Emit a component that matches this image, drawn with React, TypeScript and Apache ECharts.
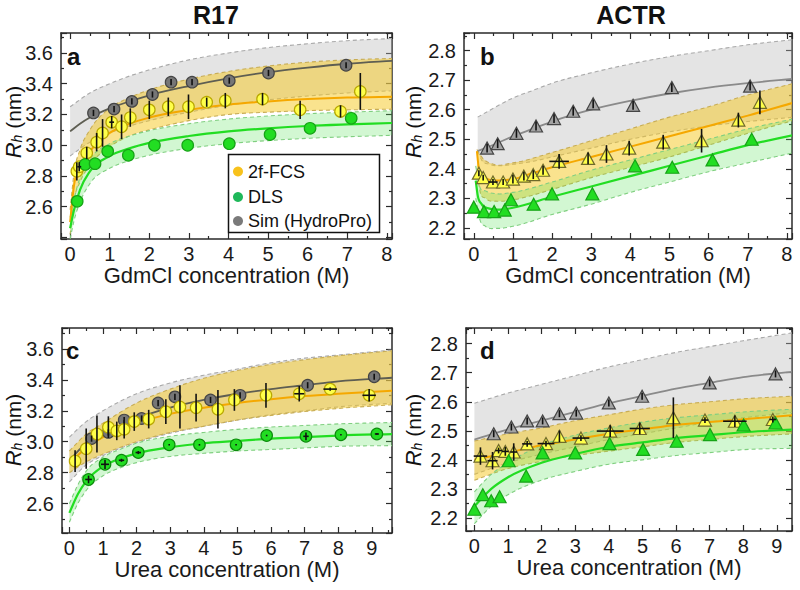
import React, { useEffect, useRef } from 'react';
import * as echarts from 'echarts';

const FONT = '"Liberation Sans", Arial, Helvetica, sans-serif';

// ---------- texts ----------
const columnTitles = ['R17', 'ACTR'];
const panelLetters = ['a', 'b', 'c', 'd'];
const xAxisNames = ['GdmCl concentration (M)', 'GdmCl concentration (M)', 'Urea concentration (M)', 'Urea concentration (M)'];
const legendNames = ['2f-FCS', 'DLS', 'Sim (HydroPro)'];

// ---------- tick labels ----------
const xTicksGdmCl = ['0', '1', '2', '3', '4', '5', '6', '7', '8'];
const xTicksUrea = ['0', '1', '2', '3', '4', '5', '6', '7', '8', '9'];
const yTicksR17 = ['2.6', '2.8', '3.0', '3.2', '3.4', '3.6'];
const yTicksACTR = ['2.2', '2.3', '2.4', '2.5', '2.6', '2.7', '2.8'];

// ---------- panel a : R17 / GdmCl ----------
const fcsA = [[0.17, 2.83], [0.23, 2.86], [0.42, 2.95], [0.67, 3.02], [0.82, 3.08], [1.05, 3.15], [1.3, 3.12], [1.52, 3.18], [2.0, 3.23], [2.48, 3.25], [2.99, 3.25], [3.45, 3.28], [3.92, 3.29], [4.86, 3.3], [5.81, 3.23], [6.83, 3.22], [7.33, 3.35]];
const fcsErrA = [[0.06, 0], [0.03, 0.05], [0.04, 0], [0.06, 0], [0.09, 0], [0.04, 0.06], [0.08, 0], [0.06, 0], [0.06, 0], [0.06, 0], [0.08, 0], [0.03, 0], [0.05, 0], [0.04, 0], [0.06, 0], [0.04, 0], [0.12, 0]];
const simA = [[0.59, 3.21], [1.11, 3.235], [1.56, 3.285], [2.08, 3.33], [2.55, 3.41], [3.08, 3.41], [4.02, 3.42], [5.01, 3.47], [6.97, 3.52]];
const simErrA = [[0.02, 0], [0.02, 0], [0.02, 0], [0.02, 0], [0.02, 0], [0.02, 0], [0.02, 0], [0.02, 0], [0.02, 0]];
const dlsA = [[0.18, 2.635], [0.38, 2.875], [0.63, 2.88], [0.95, 2.96], [1.47, 2.935], [2.13, 3.0], [2.97, 3.0], [4.02, 3.01], [5.05, 3.07], [6.06, 3.11], [7.1, 3.175]];
const dlsErrA = [[0, 0], [0, 0], [0, 0], [0, 0], [0, 0], [0, 0], [0, 0], [0, 0], [0, 0], [0, 0], [0, 0]];
const simFitA = [[0, 3.09], [0.25, 3.14], [0.5, 3.18], [1, 3.24], [1.5, 3.285], [2, 3.325], [3, 3.385], [4, 3.435], [5, 3.475], [6, 3.505], [7, 3.53], [8.2, 3.55]];
const simUpA = [[0, 3.25], [0.5, 3.34], [1, 3.4], [1.5, 3.45], [2, 3.49], [3, 3.555], [4, 3.6], [5, 3.635], [6, 3.66], [7, 3.68], [8.2, 3.695]];
const simLoA = [[0, 2.93], [0.5, 3.02], [1, 3.08], [1.5, 3.125], [2, 3.16], [3, 3.215], [4, 3.26], [5, 3.295], [6, 3.32], [7, 3.34], [8.2, 3.355]];
const fcsFitA = [[0, 2.5], [0.1, 2.74], [0.25, 2.86], [0.5, 2.96], [1, 3.08], [1.5, 3.14], [2, 3.18], [3, 3.23], [4, 3.265], [5, 3.285], [6, 3.3], [7, 3.31], [8.2, 3.315]];
const fcsUpA = [[0, 2.58], [0.1, 2.82], [0.25, 2.97], [0.5, 3.1], [1, 3.24], [1.5, 3.31], [2, 3.36], [3, 3.43], [4, 3.48], [5, 3.515], [6, 3.54], [7, 3.555], [8.2, 3.565]];
const fcsLoA = [[0, 2.42], [0.1, 2.64], [0.25, 2.76], [0.5, 2.87], [1, 2.99], [1.5, 3.06], [2, 3.1], [3, 3.16], [4, 3.2], [5, 3.215], [6, 3.225], [7, 3.23], [8.2, 3.235]];
const dlsFitA = [[0, 2.46], [0.1, 2.58], [0.25, 2.71], [0.5, 2.83], [1, 2.93], [1.5, 2.98], [2, 3.015], [3, 3.06], [4, 3.09], [5, 3.11], [6, 3.125], [7, 3.135], [8.2, 3.145]];
const dlsUpA = [[0, 2.53], [0.1, 2.65], [0.25, 2.79], [0.5, 2.91], [1, 3.01], [1.5, 3.06], [2, 3.095], [3, 3.14], [4, 3.17], [5, 3.19], [6, 3.205], [7, 3.215], [8.2, 3.225]];
const dlsLoA = [[0, 2.39], [0.1, 2.51], [0.25, 2.63], [0.5, 2.75], [1, 2.85], [1.5, 2.9], [2, 2.935], [3, 2.98], [4, 3.01], [5, 3.03], [6, 3.045], [7, 3.055], [8.2, 3.065]];

// ---------- panel b : ACTR / GdmCl ----------
const simB = [[0.34, 2.47], [0.61, 2.485], [1.09, 2.52], [1.59, 2.545], [2.05, 2.57], [2.54, 2.595], [3.05, 2.62], [4.07, 2.615], [5.06, 2.675], [7.06, 2.68]];
const simErrB = [[0.015, 0], [0.015, 0], [0.015, 0], [0.015, 0], [0.015, 0], [0.015, 0], [0.015, 0], [0.015, 0], [0.015, 0], [0.015, 0]];
const fcsB = [[0.13, 2.385], [0.24, 2.37], [0.49, 2.355], [0.75, 2.355], [1.0, 2.365], [1.28, 2.375], [1.52, 2.38], [1.77, 2.395], [2.18, 2.425], [2.92, 2.435], [3.39, 2.45], [3.97, 2.47], [4.84, 2.49], [5.82, 2.495], [6.76, 2.565], [7.31, 2.625]];
const fcsErrB = [[0.01, 0], [0.01, 0], [0.01, 0.12], [0.01, 0], [0.015, 0], [0.015, 0], [0.015, 0], [0.015, 0], [0.025, 0.25], [0.02, 0], [0.03, 0], [0.025, 0], [0.025, 0], [0.04, 0], [0.025, 0], [0.04, 0]];
const dlsB = [[0.0, 2.27], [0.26, 2.255], [0.52, 2.255], [0.79, 2.26], [0.95, 2.295], [1.53, 2.28], [2.0, 2.315], [3.03, 2.315], [4.12, 2.41], [5.07, 2.405], [6.1, 2.43], [7.1, 2.5]];
const dlsErrB = [[0, 0], [0, 0], [0, 0], [0, 0], [0, 0], [0, 0], [0, 0], [0, 0], [0, 0], [0, 0], [0, 0], [0, 0]];
const simFitB = [[0.1, 2.46], [0.3, 2.47], [0.6, 2.487], [1, 2.51], [1.5, 2.535], [2, 2.56], [3, 2.6], [4, 2.63], [5, 2.655], [6, 2.675], [7, 2.69], [8.2, 2.705]];
const simUpB = [[0.1, 2.575], [0.5, 2.605], [1, 2.64], [1.5, 2.665], [2, 2.69], [3, 2.725], [4, 2.755], [5, 2.78], [6, 2.8], [7, 2.82], [8.2, 2.838]];
const simLoB = [[0.1, 2.46], [0.2, 2.43], [0.4, 2.415], [0.7, 2.41], [1, 2.415], [1.5, 2.425], [2, 2.44], [3, 2.47], [4, 2.5], [5, 2.525], [6, 2.545], [7, 2.56], [8.2, 2.575]];
const fcsFitB = [[0.08, 2.46], [0.12, 2.41], [0.2, 2.38], [0.35, 2.365], [0.6, 2.36], [1, 2.365], [1.5, 2.385], [2, 2.405], [3, 2.44], [4, 2.475], [5, 2.51], [6, 2.545], [7, 2.58], [8.2, 2.625]];
const fcsUpB = [[0.08, 2.465], [0.2, 2.44], [0.5, 2.415], [1, 2.42], [2, 2.455], [3, 2.495], [4, 2.535], [5, 2.575], [6, 2.61], [7, 2.65], [8.2, 2.69]];
const fcsLoB = [[0.08, 2.4], [0.15, 2.33], [0.3, 2.3], [0.6, 2.29], [1, 2.295], [2, 2.33], [3, 2.37], [4, 2.405], [5, 2.44], [6, 2.48], [7, 2.52], [8.2, 2.565]];
const dlsFitB = [[0.05, 2.36], [0.1, 2.31], [0.2, 2.28], [0.4, 2.265], [0.7, 2.262], [1, 2.268], [2, 2.305], [3, 2.34], [4, 2.375], [5, 2.41], [6, 2.445], [7, 2.48], [8.2, 2.515]];
const dlsUpB = [[0.05, 2.41], [0.15, 2.34], [0.3, 2.325], [0.6, 2.315], [1, 2.32], [2, 2.355], [3, 2.395], [4, 2.43], [5, 2.465], [6, 2.5], [7, 2.535], [8.2, 2.57]];
const dlsLoB = [[0.05, 2.3], [0.15, 2.23], [0.3, 2.205], [0.6, 2.198], [1, 2.205], [2, 2.245], [3, 2.28], [4, 2.32], [5, 2.355], [6, 2.39], [7, 2.42], [8.2, 2.455]];

// ---------- panel c : R17 / urea ----------
const simC = [[0.66, 3.02], [1.16, 3.06], [1.63, 3.14], [2.15, 3.15], [2.64, 3.25], [3.14, 3.29], [4.2, 3.27], [5.08, 3.3], [7.09, 3.365], [9.07, 3.42]];
const simErrC = [[0.02, 0], [0.02, 0], [0.02, 0], [0.02, 0], [0.02, 0], [0.02, 0], [0.02, 0], [0.02, 0], [0.02, 0], [0.02, 0]];
const fcsC = [[0.17, 2.875], [0.5, 2.955], [0.82, 3.05], [1.16, 3.094], [1.41, 3.07], [1.63, 3.08], [1.93, 3.13], [2.36, 3.146], [2.87, 3.194], [3.29, 3.225], [3.77, 3.22], [4.42, 3.21], [4.91, 3.27], [5.85, 3.3], [6.84, 3.31], [7.76, 3.34], [8.92, 3.3]];
const fcsErrC = [[0.07, 0], [0.13, 0], [0.12, 0], [0.07, 0], [0.06, 0], [0.06, 0], [0.06, 0], [0.06, 0], [0.08, 0], [0.14, 0], [0.09, 0], [0.125, 0], [0.07, 0], [0.08, 0], [0.05, 0.15], [0.01, 0.2], [0.04, 0.2]];
const dlsC = [[0.57, 2.756], [1.06, 2.854], [1.55, 2.88], [2.05, 2.93], [2.97, 2.98], [3.87, 2.98], [4.96, 2.98], [5.87, 3.04], [7.04, 3.035], [8.08, 3.045], [9.15, 3.05]];
const dlsErrC = [[0.025, 0.1], [0.03, 0.12], [0.01, 0.08], [0.01, 0.08], [0.005, 0], [0.005, 0], [0.005, 0], [0.005, 0], [0.025, 0.08], [0.005, 0], [0.005, 0.06]];
const simFitC = [[0, 2.88], [0.5, 2.99], [1, 3.05], [2, 3.15], [3, 3.22], [4, 3.27], [5, 3.31], [6, 3.34], [7, 3.365], [8, 3.39], [9.7, 3.415]];
const simUpC = [[0, 3.03], [0.5, 3.13], [1, 3.2], [2, 3.31], [3, 3.38], [4, 3.43], [5, 3.47], [6, 3.51], [7, 3.54], [8, 3.56], [9.7, 3.595]];
const simLoC = [[0, 2.74], [0.5, 2.85], [1, 2.91], [2, 2.995], [3, 3.055], [4, 3.1], [5, 3.14], [6, 3.175], [7, 3.2], [8, 3.225], [9.7, 3.25]];
const fcsFitC = [[0, 2.86], [0.5, 2.96], [1, 3.03], [2, 3.12], [3, 3.18], [4, 3.22], [5, 3.25], [6, 3.275], [7, 3.295], [8, 3.31], [9.7, 3.33]];
const fcsUpC = [[0, 2.94], [0.5, 3.05], [1, 3.12], [2, 3.25], [3, 3.34], [4, 3.41], [5, 3.46], [6, 3.5], [7, 3.53], [8, 3.555], [9.7, 3.59]];
const fcsLoC = [[0, 2.8], [0.5, 2.87], [1, 2.92], [2, 3.0], [3, 3.06], [4, 3.1], [5, 3.14], [6, 3.17], [7, 3.195], [8, 3.215], [9.7, 3.24]];
const dlsFitC = [[0, 2.54], [0.25, 2.66], [0.5, 2.745], [1, 2.84], [1.5, 2.89], [2, 2.925], [3, 2.965], [4, 2.99], [5, 3.005], [6, 3.02], [7, 3.03], [8, 3.04], [9.7, 3.05]];
const dlsUpC = [[0, 2.6], [0.25, 2.72], [0.5, 2.81], [1, 2.9], [1.5, 2.95], [2, 2.99], [3, 3.035], [4, 3.06], [5, 3.08], [6, 3.095], [7, 3.105], [8, 3.115], [9.7, 3.125]];
const dlsLoC = [[0, 2.48], [0.25, 2.6], [0.5, 2.685], [1, 2.78], [1.5, 2.83], [2, 2.865], [3, 2.905], [4, 2.925], [5, 2.94], [6, 2.95], [7, 2.96], [8, 2.97], [9.7, 2.975]];

// ---------- panel d : ACTR / urea ----------
const simD = [[0.575, 2.49], [1.1, 2.513], [1.57, 2.534], [2.03, 2.534], [2.53, 2.559], [3.03, 2.561], [4.0, 2.596], [4.99, 2.619], [7.0, 2.665], [8.96, 2.696]];
const simErrD = [[0.012, 0], [0.012, 0], [0.012, 0], [0.012, 0], [0.012, 0], [0.012, 0], [0.012, 0], [0.012, 0], [0.012, 0], [0.012, 0]];
const fcsD = [[0.18, 2.413], [0.54, 2.397], [0.72, 2.432], [0.92, 2.429], [1.17, 2.427], [1.57, 2.455], [2.13, 2.456], [2.53, 2.481], [3.17, 2.475], [4.04, 2.499], [4.92, 2.508], [5.92, 2.545], [6.86, 2.537], [7.75, 2.533], [8.88, 2.539]];
const fcsErrD = [[0.03, 0.2], [0.03, 0.15], [0.01, 0.1], [0.015, 0.1], [0.03, 0.1], [0.01, 0.15], [0.01, 0.25], [0.02, 0], [0.01, 0.25], [0.02, 0.4], [0.02, 0.3], [0.07, 0], [0.01, 0.1], [0.02, 0.35], [0.01, 0.1]];
const dlsD = [[0.0, 2.23], [0.25, 2.28], [0.5, 2.259], [0.75, 2.273], [1.02, 2.397], [1.54, 2.344], [2.03, 2.424], [3.0, 2.424], [4.02, 2.456], [5.02, 2.436], [6.02, 2.464], [7.01, 2.487], [8.01, 2.52], [8.96, 2.527]];
const dlsErrD = [[0, 0], [0, 0], [0, 0], [0, 0], [0, 0], [0, 0], [0, 0], [0, 0], [0, 0], [0, 0], [0, 0], [0, 0], [0, 0], [0, 0]];
const simFitD = [[0, 2.47], [1, 2.505], [2, 2.535], [3, 2.565], [4, 2.595], [5, 2.62], [6, 2.645], [7, 2.665], [8, 2.685], [9.6, 2.705]];
const simUpD = [[0, 2.595], [1, 2.63], [2, 2.66], [3, 2.69], [4, 2.72], [5, 2.745], [6, 2.77], [7, 2.79], [8, 2.81], [9.6, 2.84]];
const simLoD = [[0, 2.35], [1, 2.39], [2, 2.42], [3, 2.445], [4, 2.47], [5, 2.49], [6, 2.51], [7, 2.53], [8, 2.545], [9.6, 2.565]];
const fcsFitD = [[0, 2.4], [1, 2.425], [2, 2.45], [3, 2.47], [4, 2.49], [5, 2.505], [6, 2.52], [7, 2.53], [8, 2.54], [9.6, 2.555]];
const fcsUpD = [[0, 2.465], [1, 2.49], [2, 2.51], [3, 2.535], [4, 2.555], [5, 2.575], [6, 2.59], [7, 2.6], [8, 2.61], [9.6, 2.62]];
const fcsLoD = [[0, 2.33], [1, 2.37], [2, 2.395], [3, 2.415], [4, 2.43], [5, 2.445], [6, 2.46], [7, 2.47], [8, 2.48], [9.6, 2.49]];
const dlsFitD = [[0, 2.24], [0.5, 2.3], [1, 2.34], [2, 2.39], [3, 2.42], [4, 2.445], [5, 2.46], [6, 2.475], [7, 2.485], [8, 2.495], [9.6, 2.505]];
const dlsUpD = [[0, 2.29], [0.5, 2.35], [1, 2.39], [2, 2.45], [3, 2.485], [4, 2.51], [5, 2.53], [6, 2.545], [7, 2.555], [8, 2.565], [9.6, 2.575]];
const dlsLoD = [[0, 2.18], [0.5, 2.24], [1, 2.28], [2, 2.33], [3, 2.36], [4, 2.385], [5, 2.4], [6, 2.415], [7, 2.425], [8, 2.435], [9.6, 2.44]];

// ---------- styling / layout ----------
const COL = {
  axis: '#2a2a2a',
  text: '#1a1a1a',
  simFill: 'rgba(185,185,185,0.38)',
  simDash: '#a9a9a9',
  fcsFill: 'rgba(245,200,30,0.5)',
  fcsDash: '#c8ad55',
  fcsFit: '#f5a800',
  dlsFill: 'rgba(95,225,95,0.28)',
  dlsDash: '#80cf80',
  dlsFit: '#22dd22',
};

const panels = [
  {
    grid: { left: 61, top: 33, width: 331, height: 206 }, x: [-0.23, 8.13], y: [2.39, 3.73], xs: 8, ys: 7,
    xTicks: xTicksGdmCl, yTicks: yTicksR17, marker: 'circle', simFitColor: '#5e5e52',
    fcs: fcsA, fcsErr: fcsErrA, sim: simA, simErr: simErrA, dls: dlsA, dlsErr: dlsErrA,
    simFit: simFitA, simUp: simUpA, simLo: simLoA, fcsFit: fcsFitA, fcsUp: fcsUpA, fcsLo: fcsLoA, dlsFit: dlsFitA, dlsUp: dlsUpA, dlsLo: dlsLoA,
  },
  {
    grid: { left: 464, top: 33, width: 328, height: 206 }, x: [-0.25, 8.13], y: [2.162, 2.86], xs: 8, ys: 7,
    xTicks: xTicksGdmCl, yTicks: yTicksACTR, marker: 'triangle', simFitColor: '#8a8a8a',
    fcs: fcsB, fcsErr: fcsErrB, sim: simB, simErr: simErrB, dls: dlsB, dlsErr: dlsErrB,
    simFit: simFitB, simUp: simUpB, simLo: simLoB, fcsFit: fcsFitB, fcsUp: fcsUpB, fcsLo: fcsLoB, dlsFit: dlsFitB, dlsUp: dlsUpB, dlsLo: dlsLoB,
  },
  {
    grid: { left: 62, top: 328, width: 330, height: 205 }, x: [-0.22, 9.6], y: [2.41, 3.735], xs: 9, ys: 7,
    xTicks: xTicksUrea, yTicks: yTicksR17, marker: 'circle', simFitColor: '#5e5e52',
    fcs: fcsC, fcsErr: fcsErrC, sim: simC, simErr: simErrC, dls: dlsC, dlsErr: dlsErrC,
    simFit: simFitC, simUp: simUpC, simLo: simLoC, fcsFit: fcsFitC, fcsUp: fcsUpC, fcsLo: fcsLoC, dlsFit: dlsFitC, dlsUp: dlsUpC, dlsLo: dlsLoC,
  },
  {
    grid: { left: 466, top: 328, width: 326, height: 203 }, x: [-0.25, 9.45], y: [2.155, 2.854], xs: 9, ys: 7,
    xTicks: xTicksUrea, yTicks: yTicksACTR, marker: 'triangle', simFitColor: '#8a8a8a',
    fcs: fcsD, fcsErr: fcsErrD, sim: simD, simErr: simErrD, dls: dlsD, dlsErr: dlsErrD,
    simFit: simFitD, simUp: simUpD, simLo: simLoD, fcsFit: fcsFitD, fcsUp: fcsUpD, fcsLo: fcsLoD, dlsFit: dlsFitD, dlsUp: dlsUpD, dlsLo: dlsLoD,
  },
];

// smooth (cubic Hermite in pixel space) path segments through pixel points
function segs(p: number[][]): string {
  const n = p.length;
  if (n < 2) return '';
  const m: number[] = [];
  for (let i = 0; i < n; i++) {
    if (i === 0) m.push((p[1][1] - p[0][1]) / (p[1][0] - p[0][0]));
    else if (i === n - 1) m.push((p[n - 1][1] - p[n - 2][1]) / (p[n - 1][0] - p[n - 2][0]));
    else {
      const h0 = p[i][0] - p[i - 1][0];
      const h1 = p[i + 1][0] - p[i][0];
      const d0 = (p[i][1] - p[i - 1][1]) / h0;
      const d1 = (p[i + 1][1] - p[i][1]) / h1;
      m.push((d0 * h1 + d1 * h0) / (h0 + h1));
    }
  }
  let s = '';
  for (let i = 0; i < n - 1; i++) {
    const dx = p[i + 1][0] - p[i][0];
    const c1x = p[i][0] + dx / 3;
    const c1y = p[i][1] + (m[i] * dx) / 3;
    const c2x = p[i + 1][0] - dx / 3;
    const c2y = p[i + 1][1] - (m[i + 1] * dx) / 3;
    s += ` C${c1x.toFixed(2)} ${c1y.toFixed(2)} ${c2x.toFixed(2)} ${c2y.toFixed(2)} ${p[i + 1][0].toFixed(2)} ${p[i + 1][1].toFixed(2)}`;
  }
  return s;
}
const openPath = (p: number[][]) => `M${p[0][0].toFixed(2)} ${p[0][1].toFixed(2)}` + segs(p);

function bandSeries(i: number, up: number[][], lo: number[][], fill: string, dash: string) {
  return {
    type: 'custom', xAxisIndex: i, yAxisIndex: i, clip: true, silent: true, z: 1,
    data: [up[0]], encode: { x: 0, y: 1 },
    renderItem: (_params: any, api: any) => {
      const U = up.map((q) => api.coord(q));
      const L = lo.map((q) => api.coord(q));
      const Lr = L.slice().reverse();
      const fillD = openPath(U) + ` L${Lr[0][0].toFixed(2)} ${Lr[0][1].toFixed(2)}` + segs(Lr) + ' Z';
      return {
        type: 'group',
        children: [
          { type: 'path', shape: { pathData: fillD }, style: { fill, stroke: 'none' } },
          { type: 'path', shape: { pathData: openPath(U) }, style: { fill: 'none', stroke: dash, lineWidth: 1.1, lineDash: [4, 3] } },
          { type: 'path', shape: { pathData: openPath(L) }, style: { fill: 'none', stroke: dash, lineWidth: 1.1, lineDash: [4, 3] } },
        ],
      };
    },
  };
}

function fitSeries(i: number, pts: number[][], color: string, width: number) {
  return {
    type: 'custom', xAxisIndex: i, yAxisIndex: i, clip: true, silent: true, z: 2,
    data: [pts[0]], encode: { x: 0, y: 1 },
    renderItem: (_params: any, api: any) => {
      const P = pts.map((q) => api.coord(q));
      return { type: 'path', shape: { pathData: openPath(P) }, style: { fill: 'none', stroke: color, lineWidth: width } };
    },
  };
}

function errSeries(i: number, pts: number[][], err: number[][]) {
  return {
    type: 'custom', xAxisIndex: i, yAxisIndex: i, clip: true, silent: true, z: 4,
    data: pts.map((q, k) => [q[0], q[1], err[k][0], err[k][1]]),
    encode: { x: 0, y: 1 },
    renderItem: (_params: any, api: any) => {
      const x = api.value(0), y = api.value(1), ey = api.value(2), ex = api.value(3);
      const children: any[] = [];
      if (ey > 0) {
        const a = api.coord([x, y - ey]);
        const b = api.coord([x, y + ey]);
        children.push({ type: 'line', shape: { x1: a[0], y1: a[1], x2: b[0], y2: b[1] }, style: { stroke: '#111', lineWidth: 1.6 } });
      }
      if (ex > 0) {
        const a = api.coord([x - ex, y]);
        const b = api.coord([x + ex, y]);
        children.push({ type: 'line', shape: { x1: a[0], y1: a[1], x2: b[0], y2: b[1] }, style: { stroke: '#111', lineWidth: 1.6 } });
      }
      return { type: 'group', children };
    },
  };
}

function scatterSeries(i: number, name: string, pts: number[][], marker: string, fill: string, border: string) {
  return {
    type: 'scatter', name, xAxisIndex: i, yAxisIndex: i, z: 3, silent: true,
    symbol: marker, symbolSize: marker === 'triangle' ? [13, 12] : 11.5,
    itemStyle: { color: fill, borderColor: border, borderWidth: 1.2, opacity: 1 },
    data: pts,
  };
}

function buildOption() {
  const grid: any[] = [];
  const xAxis: any[] = [];
  const yAxis: any[] = [];
  const series: any[] = [];
  const tickStyle = { color: COL.axis, width: 1.2 };
  panels.forEach((p, i) => {
    grid.push({ ...p.grid, containLabel: false, outerBoundsMode: 'none' });
    const xFmt = (v: number) => {
      const r = Math.round(v);
      return Math.abs(v - r) < 1e-6 && p.xTicks.includes(String(r)) ? String(r) : '';
    };
    const yFmt = (v: number) => {
      const s = (Math.round(v * 10) / 10).toFixed(1);
      return Math.abs(v - parseFloat(s)) < 1e-6 && p.yTicks.includes(s) ? s : '';
    };
    xAxis.push({
      type: 'value', gridIndex: i, min: p.x[0], max: p.x[1], splitNumber: p.xs, position: 'bottom',
      name: xAxisNames[i], nameLocation: 'middle', nameGap: 22,
      nameTextStyle: { fontSize: 22, color: COL.text, fontFamily: FONT },
      axisLine: { show: true, onZero: false, lineStyle: { color: COL.axis, width: 1.5 } },
      axisTick: { show: true, inside: true, length: 6, lineStyle: tickStyle },
      minorTick: { show: true, splitNumber: 2, length: 3, lineStyle: tickStyle },
      splitLine: { show: false },
      axisLabel: { fontSize: 20, color: COL.text, fontFamily: FONT, margin: 5, formatter: xFmt, hideOverlap: false },
    });
    yAxis.push({
      type: 'value', gridIndex: i, min: p.y[0], max: p.y[1], splitNumber: p.ys, position: 'left',
      axisLine: { show: true, onZero: false, lineStyle: { color: COL.axis, width: 1.5 } },
      axisTick: { show: true, inside: true, length: 6, lineStyle: tickStyle },
      minorTick: { show: true, splitNumber: 2, length: 3, lineStyle: tickStyle },
      splitLine: { show: false },
      axisLabel: { fontSize: 20, color: COL.text, fontFamily: FONT, margin: 8, formatter: yFmt, hideOverlap: false },
    });
  });
  // mirrored top / right axes (frame with inside ticks)
  panels.forEach((p, i) => {
    xAxis.push({
      type: 'value', gridIndex: i, min: p.x[0], max: p.x[1], splitNumber: p.xs, position: 'top',
      axisLine: { show: true, onZero: false, lineStyle: { color: COL.axis, width: 1.5 } },
      axisTick: { show: true, inside: true, length: 6, lineStyle: tickStyle },
      minorTick: { show: true, splitNumber: 2, length: 3, lineStyle: tickStyle },
      splitLine: { show: false }, axisLabel: { show: false },
    });
    yAxis.push({
      type: 'value', gridIndex: i, min: p.y[0], max: p.y[1], splitNumber: p.ys, position: 'right',
      axisLine: { show: true, onZero: false, lineStyle: { color: COL.axis, width: 1.5 } },
      axisTick: { show: true, inside: true, length: 6, lineStyle: tickStyle },
      minorTick: { show: true, splitNumber: 2, length: 3, lineStyle: tickStyle },
      splitLine: { show: false }, axisLabel: { show: false },
    });
  });

  panels.forEach((p, i) => {
    const tri = p.marker === 'triangle';
    series.push(bandSeries(i, p.simUp, p.simLo, COL.simFill, COL.simDash));
    series.push(bandSeries(i, p.fcsUp, p.fcsLo, COL.fcsFill, COL.fcsDash));
    series.push(bandSeries(i, p.dlsUp, p.dlsLo, COL.dlsFill, COL.dlsDash));
    series.push(fitSeries(i, p.simFit, p.simFitColor, 1.8));
    series.push(fitSeries(i, p.fcsFit, COL.fcsFit, 2));
    series.push(fitSeries(i, p.dlsFit, COL.dlsFit, 2.2));
    series.push(scatterSeries(i, legendNames[2], p.sim, p.marker, tri ? '#a3a3a3' : '#767676', '#454545'));
    series.push(scatterSeries(i, legendNames[0], p.fcs, p.marker, '#ffff4a', tri ? '#6f6a2a' : '#b9a800'));
    series.push(scatterSeries(i, legendNames[1], p.dls, p.marker, '#22dd22', i === 2 ? '#0c8a0c' : '#16a316'));
    series.push(errSeries(i, p.sim, p.simErr));
    series.push(errSeries(i, p.fcs, p.fcsErr));
    series.push(errSeries(i, p.dls, p.dlsErr));
  });

  const graphic: any[] = [];
  // column titles
  [216, 631].forEach((cx, k) => {
    graphic.push({ type: 'text', x: cx, y: 15, z: 100, style: { text: columnTitles[k], font: `bold 25px ${FONT}`, fill: '#111', align: 'center', verticalAlign: 'middle' } });
  });
  // panel letters
  const letterPos = [[67, 56], [480, 56], [66, 350], [480, 350]];
  letterPos.forEach((q, k) => {
    graphic.push({ type: 'text', x: q[0], y: q[1], z: 100, style: { text: panelLetters[k], font: `bold 24px ${FONT}`, fill: '#111', align: 'left', verticalAlign: 'middle' } });
  });
  // y axis names
  const yNamePos = [[13, 122], [413, 122], [13, 430], [413, 430]];
  yNamePos.forEach((q) => {
    graphic.push({
      type: 'text', x: q[0], y: q[1], rotation: Math.PI / 2, z: 100,
      style: {
        text: '{i|R}{s|h}{n| (nm)}', align: 'center', verticalAlign: 'middle',
        rich: {
          i: { fontFamily: FONT, fontSize: 22, fontStyle: 'italic', fill: '#111', color: '#111' },
          s: { fontFamily: FONT, fontSize: 14, fontStyle: 'italic', fill: '#111', color: '#111', verticalAlign: 'bottom', lineHeight: 22 },
          n: { fontFamily: FONT, fontSize: 21, fill: '#111', color: '#111' },
        },
      },
    });
  });
  // legend (panel a)
  const legendColors = ['#f8c21c', '#1fb85a', '#7a7a7a'];
  graphic.push({ type: 'rect', z: 100, shape: { x: 228.5, y: 154.5, width: 151, height: 78 }, style: { fill: '#fff', stroke: '#111', lineWidth: 1.5 } });
  [171.5, 197, 221].forEach((cy, k) => {
    graphic.push({ type: 'circle', z: 101, shape: { cx: 238, cy, r: 5 }, style: { fill: legendColors[k] } });
    graphic.push({ type: 'text', z: 101, x: 248, y: cy, style: { text: legendNames[k], font: `18px ${FONT}`, fill: '#111', align: 'left', verticalAlign: 'middle' } });
  });

  return { animation: false, backgroundColor: '#ffffff', grid, xAxis, yAxis, series, graphic };
}

export default function App() {
  const ref = useRef<HTMLDivElement>(null);
  useEffect(() => {
    const chart = echarts.init(ref.current as HTMLDivElement, null, { renderer: 'svg' });
    chart.setOption(buildOption() as any);
    return () => chart.dispose();
  }, []);
  return <div ref={ref} style={{ position: 'fixed', left: 0, top: 0, width: 800, height: 590, background: '#fff' }} />;
}
